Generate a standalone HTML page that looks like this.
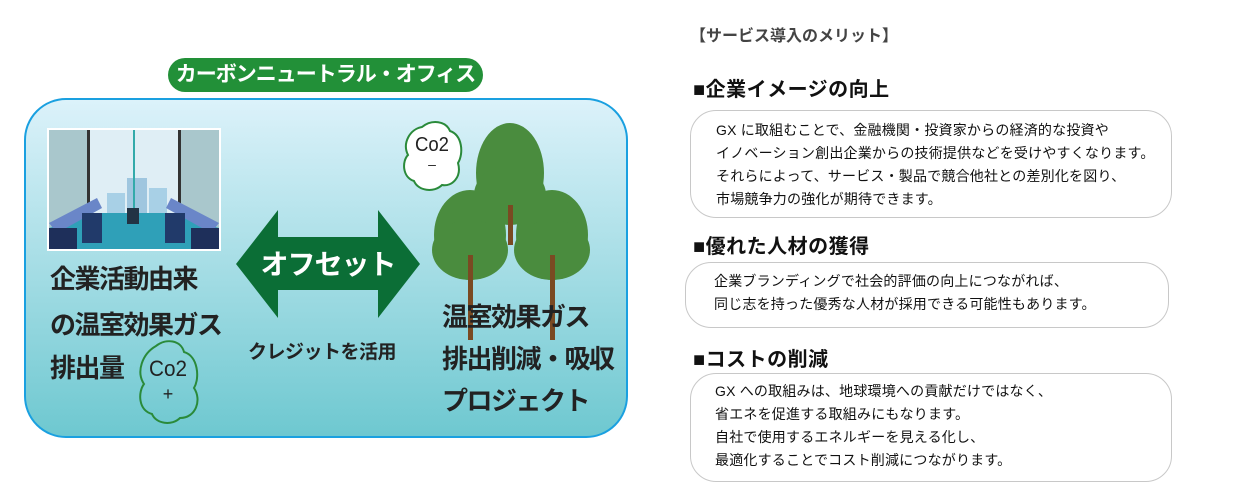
<!DOCTYPE html>
<html><head><meta charset="utf-8"><style>
body{margin:0;width:1250px;height:500px;background:#fff;position:relative;overflow:hidden;font-family:"Liberation Sans","Noto Sans CJK JP",sans-serif;}
.a{position:absolute;white-space:nowrap;}
.big{font-size:26px;font-weight:bold;color:#222;letter-spacing:-1.5px}
.h{font-size:20px;font-weight:bold;color:#111;letter-spacing:0.5px}
.t{font-size:14px;color:#111;line-height:23px;letter-spacing:0.2px}
.box{position:absolute;border:1px solid #c8c8c8;border-radius:26px;background:#fff}
</style></head><body>
<div class="a" style="left:24px;top:98px;width:600px;height:336px;border:2px solid #1aa0e0;border-radius:42px;background:linear-gradient(#dcf2fa,#6ec8d0);"></div>
<div class="a" style="left:168px;top:58px;width:315px;height:34px;border-radius:17px;background:#229038;color:#fff;font-size:21px;font-weight:bold;text-align:center;line-height:34px;letter-spacing:-1px">カーボンニュートラル・オフィス</div>
<svg class="a" style="left:47px;top:128px" width="174" height="123" viewBox="0 0 174 123">
<rect width="174" height="123" fill="#fff"/>
<rect x="2" y="2" width="170" height="119" fill="#dfeef5"/>
<rect x="2" y="2" width="38" height="100" fill="#a9c7cc"/>
<rect x="134" y="2" width="38" height="100" fill="#a9c7cc"/>
<rect x="80" y="50" width="20" height="50" fill="#9fc6df"/><rect x="60" y="65" width="18" height="35" fill="#a8d0e6"/><rect x="102" y="60" width="18" height="40" fill="#a8d0e6"/>
<rect x="40" y="2" width="3" height="100" fill="#333"/><rect x="131" y="2" width="3" height="100" fill="#333"/><rect x="86" y="2" width="2" height="100" fill="#3aa"/>
<polygon points="2,121 172,121 172,100 120,85 55,85 2,100" fill="#2fa0b8"/>
<polygon points="2,95 50,70 55,80 10,105" fill="#6a86c8"/><polygon points="172,95 124,70 119,80 164,105" fill="#6a86c8"/>
<rect x="2" y="100" width="28" height="21" fill="#1e2f5a"/><rect x="144" y="100" width="28" height="21" fill="#1e2f5a"/>
<rect x="35" y="85" width="20" height="30" fill="#213a6a"/><rect x="118" y="85" width="20" height="30" fill="#213a6a"/>
<rect x="80" y="80" width="12" height="16" fill="#234"/>
</svg>
<div class="a big" style="left:50px;top:259px">企業活動由来</div>
<div class="a big" style="left:50px;top:305px">の温室効果ガス</div>
<div class="a big" style="left:50px;top:348px">排出量</div>
<svg class="a" style="left:136px;top:338px" width="68" height="88"><path d="M20,8 C30,0 45,2 48,14 C62,18 64,40 58,50 C66,62 60,80 44,80 C36,88 20,86 16,76 C2,72 2,54 8,46 C0,34 6,16 20,8Z" fill="none" stroke="#2a8a3a" stroke-width="2"/><text x="32" y="38" font-size="22" text-anchor="middle" font-family="Liberation Sans" fill="#222" textLength="38" lengthAdjust="spacingAndGlyphs">Co2</text><text x="32" y="62" font-size="18" text-anchor="middle" fill="#222">+</text></svg>
<svg class="a" style="left:236px;top:210px" width="184" height="108"><polygon points="0,54 42,0 42,27 142,27 142,0 184,54 142,108 142,80 42,80 42,108" fill="#0b6e36"/><text x="92" y="64" fill="#fff" font-size="28" font-weight="bold" text-anchor="middle" font-family="Liberation Sans,Noto Sans CJK JP" letter-spacing="-1">オフセット</text></svg>
<div class="a" style="left:248px;top:337px;font-size:19px;font-weight:bold;color:#222;letter-spacing:-0.5px">クレジットを活用</div>
<svg class="a" style="left:400px;top:115px" width="210" height="230">
<path d="M22,12 C32,4 46,6 50,16 C62,20 64,38 58,48 C62,62 52,72 42,70 C34,78 18,76 14,66 C2,62 2,46 8,40 C2,28 10,14 22,12Z" fill="#fff" stroke="#2a8a3a" stroke-width="2"/>
<text x="32" y="36" font-size="20" text-anchor="middle" font-family="Liberation Sans" fill="#222" textLength="34" lengthAdjust="spacingAndGlyphs">Co2</text><text x="32" y="54" font-size="14" text-anchor="middle" fill="#222">–</text>
<ellipse cx="110" cy="58" rx="34" ry="50" fill="#4a8c3e"/><ellipse cx="110" cy="80" rx="36" ry="30" fill="#4a8c3e"/>
<rect x="108" y="90" width="5" height="40" fill="#7a4a22"/>
<ellipse cx="70" cy="120" rx="36" ry="45" fill="#4a8c3e"/><ellipse cx="70" cy="135" rx="38" ry="30" fill="#4a8c3e"/>
<ellipse cx="152" cy="120" rx="36" ry="45" fill="#4a8c3e"/><ellipse cx="152" cy="135" rx="38" ry="30" fill="#4a8c3e"/>
<rect x="68" y="140" width="5" height="85" fill="#7a4a22"/><rect x="150" y="140" width="5" height="85" fill="#7a4a22"/>
</svg>
<div class="a big" style="left:442px;top:297px">温室効果ガス</div>
<div class="a big" style="left:442px;top:339px">排出削減・吸収</div>
<div class="a big" style="left:442px;top:381px">プロジェクト</div>

<div class="a" style="left:690px;top:22px;font-size:16px;font-weight:bold;color:#444">【サービス導入のメリット】</div>
<div class="a h" style="left:693px;top:73px">■企業イメージの向上</div>
<div class="box" style="left:690px;top:110px;width:480px;height:106px"></div>
<div class="a t" style="left:716px;top:119px">GX に取組むことで、金融機関・投資家からの経済的な投資や<br>イノベーション創出企業からの技術提供などを受けやすくなります。<br>それらによって、サービス・製品で競合他社との差別化を図り、<br>市場競争力の強化が期待できます。</div>
<div class="a h" style="left:693px;top:230px">■優れた人材の獲得</div>
<div class="box" style="left:685px;top:262px;width:482px;height:64px"></div>
<div class="a t" style="left:714px;top:270px">企業ブランディングで社会的評価の向上につながれば、<br>同じ志を持った優秀な人材が採用できる可能性もあります。</div>
<div class="a h" style="left:693px;top:343px">■コストの削減</div>
<div class="box" style="left:690px;top:373px;width:480px;height:107px"></div>
<div class="a t" style="left:715px;top:380px">GX への取組みは、地球環境への貢献だけではなく、<br>省エネを促進する取組みにもなります。<br>自社で使用するエネルギーを見える化し、<br>最適化することでコスト削減につながります。</div>
</body></html>
